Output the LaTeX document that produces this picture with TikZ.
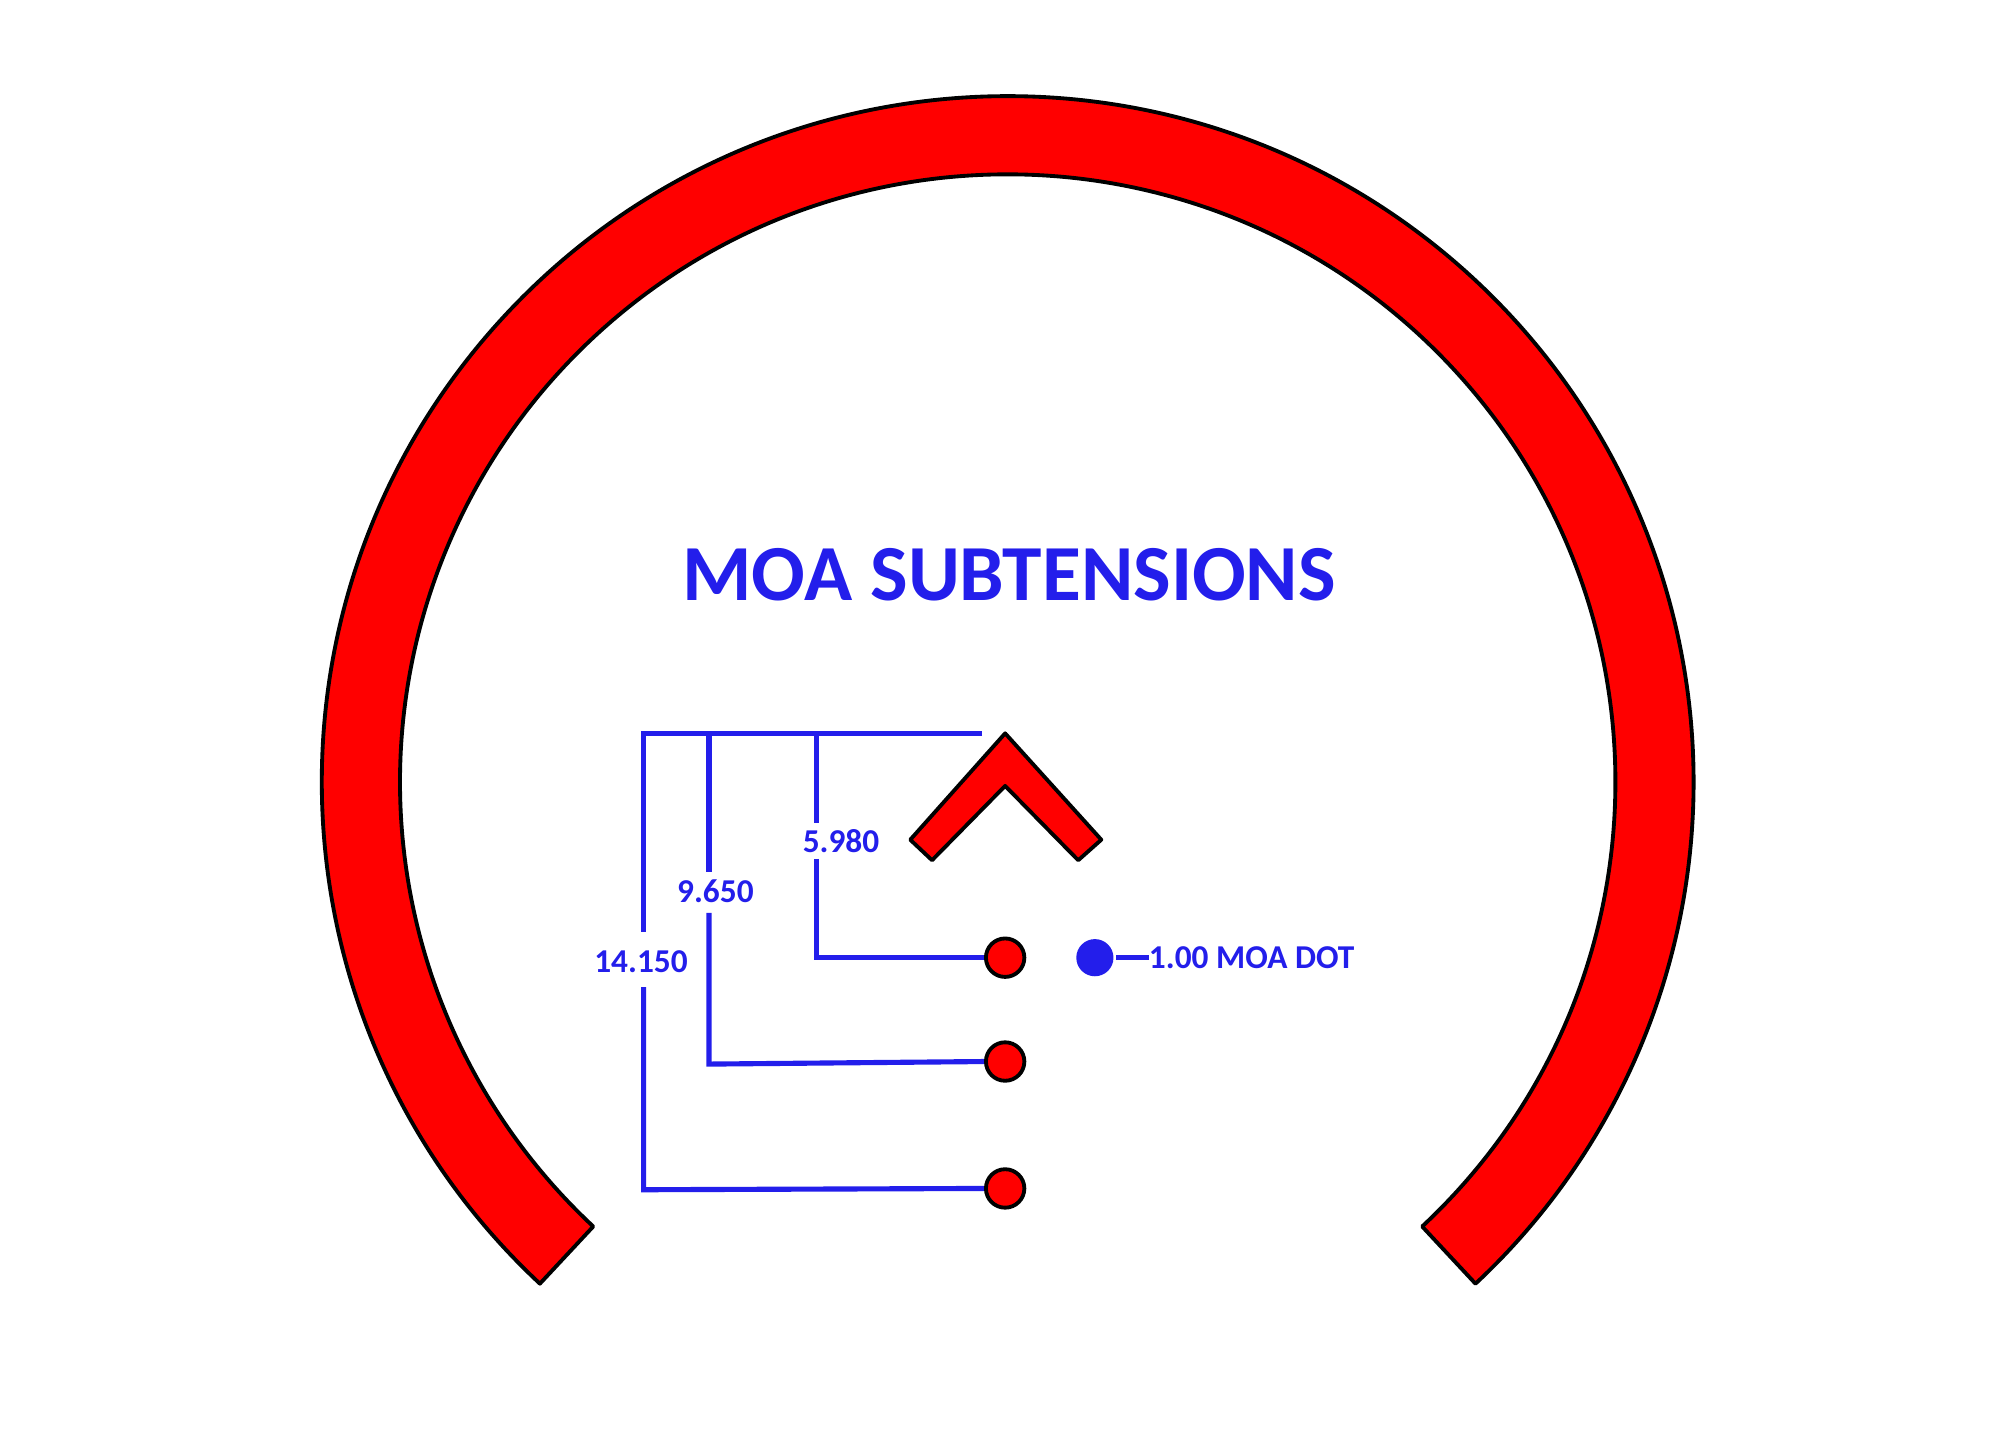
\documentclass[tikz,border=0pt]{standalone}
\usepackage{fontspec}
\setmainfont{Carlito}
\begin{document}
\begin{tikzpicture}[x=1pt,y=1pt,
  blu/.style={draw={rgb,255:red,35;green,30;blue,235},line width=4pt},
  lab/.style={text={rgb,255:red,35;green,30;blue,235},font=\bfseries\fontsize{26}{26}\selectfont,inner sep=0pt},
  reddot/.style={circle,fill=red,draw=black,line width=3pt,minimum size=30pt,inner sep=0pt},
  redshape/.style={fill=red,draw=black,line width=3pt,line join=round}]
\useasboundingbox (0,0) rectangle (1560,1116);
\coordinate (c) at (786,506);
\path[redshape] ([shift={(227:535)}]c) arc (227:-47:535) -- ([shift={(-47:474)}]c) arc (-47:227:474) -- cycle;
\node[text={rgb,255:red,35;green,30;blue,235},font=\bfseries\fontsize{62}{62}\selectfont] (t) at (787,668) {MOA SUBTENSIONS};
\path[redshape] (784,544) -- (710,461) -- (727,445) -- (784,503) -- (841,445) -- (859,461) -- cycle;
\node[reddot] (d1) at (784,369) {};
\node[reddot] (d2) at (784,288) {};
\node[reddot] (d3) at (784,189) {};
\node[circle,fill={rgb,255:red,35;green,30;blue,235},minimum size=29pt,inner sep=0pt] (bd) at (854,369) {};
\node[lab,anchor=west] (bl) at (896,369) {1.00 MOA DOT};
\draw[blu] (bd.east) ++(2,0) -- (bl.west);
\node[lab] (l1) at (656,460) {5.980};
\node[lab] (l2) at (558,421) {9.650};
\node[lab] (l3) at (500,366) {14.150};
\draw[blu,line cap=butt] (766,544) -- (502,544) -- (502,389);
\draw[blu] (502,346) -- (502,188) -- (d3.west);
\draw[blu] (553,544) -- (553,436);
\draw[blu] (553,404) -- (553,286) -- (d2.west);
\draw[blu] (637,544) -- (637,474);
\draw[blu] (637,446) -- (637,369) -- (d1.west);
\end{tikzpicture}
\end{document}
